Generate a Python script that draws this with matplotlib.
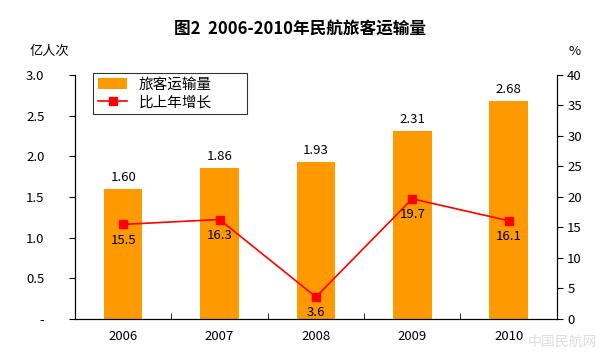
import matplotlib
matplotlib.use('Agg')
import matplotlib.pyplot as plt
import numpy as np

plt.rcParams['font.family'] = ['Noto Sans CJK SC', 'DejaVu Sans']

years = ['2006', '2007', '2008', '2009', '2010']
passengers = [1.60, 1.86, 1.93, 2.31, 2.68]
growth = [15.5, 16.3, 3.6, 19.7, 16.1]
left_ticks = [0, 0.5, 1.0, 1.5, 2.0, 2.5, 3.0]
left_labels = ['-', '0.5', '1.0', '1.5', '2.0', '2.5', '3.0']
right_ticks = [0, 5, 10, 15, 20, 25, 30, 35, 40]

fig = plt.figure(figsize=(6, 3.52), dpi=100)
ax = fig.add_axes([0.125, 0.094, 0.803, 0.693])
ax2 = ax.twinx()

x = np.arange(len(years))
bars = ax.bar(x, passengers, width=0.4, color='#FF9900', label='旅客运输量', zorder=2)
ax.set_xlim(-0.5, len(years) - 0.5)
ax.set_ylim(0, 3.0)
ax.set_yticks(left_ticks)
ax.set_yticklabels(left_labels, fontsize=9.5)
ax.set_xticks(x)
ax.set_xticklabels(years, fontsize=9.5)
ax.tick_params(axis='x', length=0, pad=8)
ax.set_xticks(np.arange(0.5, len(years) - 0.5, 1), minor=True)
ax.tick_params(axis='x', which='minor', direction='in', length=4)
ax.tick_params(axis='y', direction='out', length=4, pad=18)

for b, v in zip(bars, passengers):
    ax.text(b.get_x() + b.get_width() / 2, v + 0.06, f'{v:.2f}', ha='center', va='bottom', fontsize=9.5)

line, = ax2.plot(x, growth, color='#FF0000', marker='s', markersize=6, linewidth=1.2, label='比上年增长', zorder=3)
ax2.set_ylim(0, 40)
ax2.set_yticks(right_ticks)
ax2.tick_params(axis='y', direction='out', length=4, labelsize=9.5)
for xi, g in zip(x, growth):
    ax2.text(xi, g - 1.5, f'{g}', ha='center', va='top', fontsize=9.5)

for a in (ax, ax2):
    a.spines['top'].set_visible(False)

fig.text(0.5, 0.915, '图2  2006-2010年民航旅客运输量', ha='center', va='center', fontsize=12, fontweight='bold')
fig.text(0.05, 0.855, '亿人次', ha='left', va='center', fontsize=9.5)
fig.text(0.958, 0.855, '%', ha='center', va='center', fontsize=9.5)
fig.text(0.995, 0.01, '中国民航网', ha='right', va='bottom', fontsize=10, color='#dddddd', zorder=0)

leg = ax.legend(handles=[bars, line], loc='upper left', bbox_to_anchor=(0.037, 1.01, 0.32, 0),
                mode='expand', fontsize=10.5, frameon=True, fancybox=False, edgecolor='black',
                handlelength=2, borderpad=0.35, labelspacing=0.25, borderaxespad=0)
leg.get_frame().set_linewidth(0.8)
leg.set_zorder(5)

fig.savefig('out.png', dpi=100)
